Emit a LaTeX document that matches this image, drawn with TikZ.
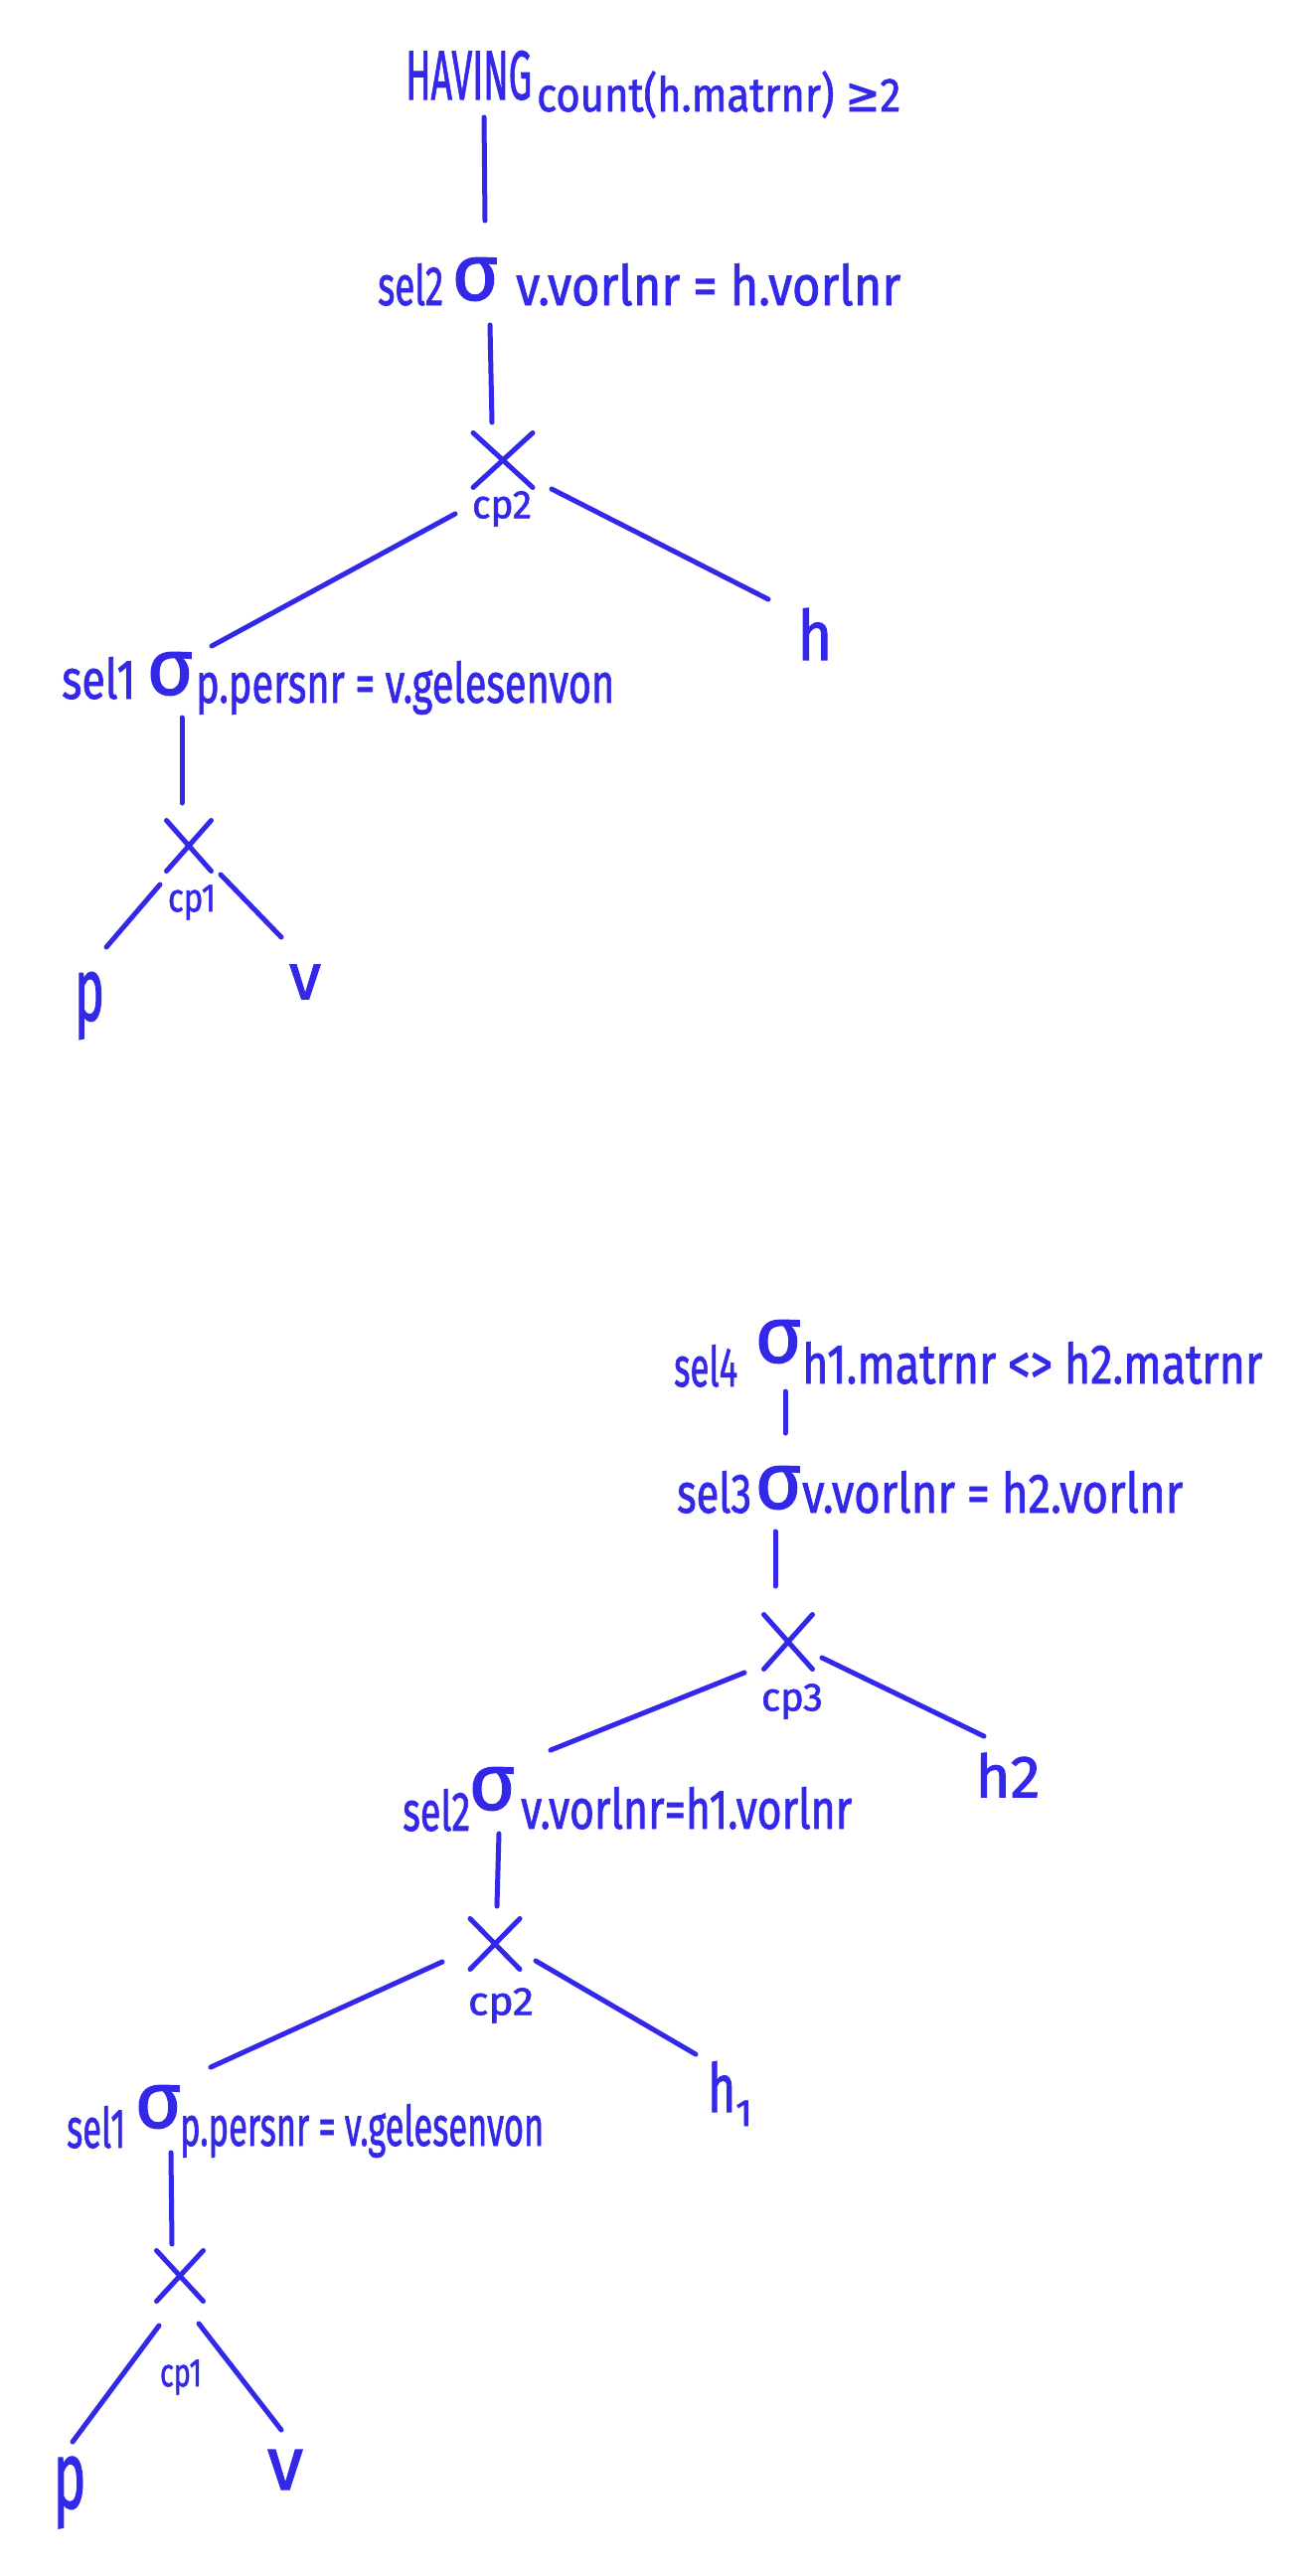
\documentclass[tikz,border=0pt]{standalone}
\usepackage{fontspec}
\usepackage{graphicx}
\setmainfont{Fira Sans}[FakeBold=1.5]
\newfontfamily\symf{DejaVu Sans}[FakeBold=1.5]
\usetikzlibrary{shapes.misc}
\definecolor{ink}{RGB}{52,40,232}
\newcommand{\fw}[2]{\resizebox{#1pt}{\height}{#2}}
\tikzset{
  txt/.style={inner sep=0pt, text=ink, anchor=base west, font=\fontsize{56}{60}\selectfont},
  subtxt/.style={inner sep=0pt, text=ink, anchor=base west, font=\fontsize{48}{52}\selectfont},
  captxt/.style={inner sep=0pt, text=ink, anchor=base west, font=\fontsize{70}{74}\selectfont},
  sig/.style={inner sep=0pt, text=ink, font=\fontsize{80}{84}\selectfont},
  cpl/.style={inner sep=0pt, text=ink, font=\fontsize{40}{44}\selectfont},
  leaf/.style={inner sep=0pt, text=ink, font=\fontsize{70}{74}\selectfont},
  crossnode/.style={cross out, draw=ink, line width=5pt, line cap=round, inner sep=0pt},
  edge/.style={draw=ink, line width=5pt, line cap=round}
}
\begin{document}
\begin{tikzpicture}[x=1pt,y=-1pt]
\fill[white] (0,0) rectangle (1308,2592);
\useasboundingbox (0,0) rectangle (1308,2592);

% ---------------- top tree ----------------
\node[captxt] (tHav) at (408,100) {\fw{127}{HAVING}};
\node[subtxt] (tHavC) at (540,112) {\fw{366}{count(h.matrnr) {\symf ≥}2}};

\node[txt] (tS2l) at (380,307) {\fw{66}{sel2}};
\node[sig] (tS2) at (478,281) {σ};
\node[txt] (tS2c) at (519,307) {\fw{387}{v.vorlnr = h.vorlnr}};

\node[crossnode, minimum width=55pt, minimum height=50pt] (tX2) at (506,463) {};
\node[cpl] (tX2l) at (505,512) {\fw{60}{cp2}};
\node[leaf] (tH) at (820,638) {\fw{35}{h}};

\node[txt] (tS1l) at (62,703) {\fw{74}{sel1}};
\node[sig] (tS1) at (171,678) {σ};
\node[txt] (tS1c) at (197,707) {\fw{421}{p.persnr = v.gelesenvon}};

\node[crossnode, minimum width=40pt, minimum height=46pt] (tX1) at (190,851) {};
\node[cpl] (tX1l) at (193,908) {\fw{48}{cp1}};
\node[leaf, font=\fontsize{90}{94}\selectfont] (tP) at (90,1012) {\fw{30}{p}};
\node[leaf, font=\fontsize{66}{70}\selectfont] (tV) at (307,988) {\fw{32}{v}};

\draw[edge] ([shift={(79,18)}]tHav.base west) -- ([shift={(10,-59)}]tS2.center);
\draw[edge] ([shift={(15,46)}]tS2.center) -- ([shift={(-11,-38)}]tX2.center);
\draw[edge] ([shift={(-48,54)}]tX2.center) -- ([shift={(42,-28)}]tS1.center);
\draw[edge] ([shift={(49,29)}]tX2.center) -- ([shift={(-47,-35)}]tH.center);
\draw[edge] ([shift={(12,44)}]tS1.center) -- ([shift={(-7,-43)}]tX1.center);
\draw[edge] ([shift={(-29,39)}]tX1.center) -- ([shift={(17,-59)}]tP.center);
\draw[edge] ([shift={(32,29)}]tX1.center) -- ([shift={(-24,-45)}]tV.center);

% ---------------- bottom tree ----------------
\node[txt] (bS4l) at (678,1395) {\fw{64}{sel4}};
\node[sig] (bS4) at (783,1350) {σ};
\node[txt] (bS4c) at (807,1392) {\fw{463}{h1.matrnr <> h2.matrnr}};

\node[txt] (bS3l) at (681,1522) {\fw{75}{sel3}};
\node[sig] (bS3) at (783,1497) {σ};
\node[txt] (bS3c) at (807,1522) {\fw{383}{v.vorlnr = h2.vorlnr}};

\node[crossnode, minimum width=44pt, minimum height=50pt] (bX3) at (793,1652) {};
\node[cpl] (bX3l) at (797,1712) {\fw{62}{cp3}};
\node[leaf, font=\fontsize{60}{64}\selectfont] (bH2) at (1014,1786) {\fw{65}{h2}};

\node[txt] (bS2l) at (405,1842) {\fw{68}{sel2}};
\node[sig] (bS2) at (495,1800) {σ};
\node[txt] (bS2c) at (524,1840) {\fw{333}{v.vorlnr=h1.vorlnr}};

\node[crossnode, minimum width=45pt, minimum height=46pt] (bX2) at (498,1956) {};
\node[cpl] (bX2l) at (504,2018) {\fw{66}{cp2}};
\node[leaf, anchor=base west, font=\fontsize{68}{72}\selectfont] (bH1) at (712,2125) {\fw{28}{h}{\fontsize{38}{40}\selectfont\raisebox{-14pt}{1}}};

\node[txt] (bS1l) at (67,2161) {\fw{59}{sel1}};
\node[sig] (bS1) at (159,2120) {σ};
\node[txt] (bS1c) at (181,2159) {\fw{366}{p.persnr = v.gelesenvon}};

\node[crossnode, minimum width=42pt, minimum height=46pt] (bX1) at (181,2290) {};
\node[cpl] (bX1l) at (182,2392) {\fw{42}{cp1}};
\node[leaf, font=\fontsize{96}{100}\selectfont] (bP) at (70,2508) {\fw{33}{p}};
\node[leaf, font=\fontsize{76}{80}\selectfont] (bV) at (287,2485) {\fw{36}{v}};

\draw[edge] ([shift={(7,50)}]bS4.center) -- ([shift={(7,-55)}]bS3.center);
\draw[edge] ([shift={(-3,44)}]bS3.center) -- ([shift={(-13,-56)}]bX3.center);
\draw[edge] ([shift={(-44,31)}]bX3.center) -- ([shift={(59,-39)}]bS2.center);
\draw[edge] ([shift={(34,16)}]bX3.center) -- ([shift={(-24,-39)}]bH2.center);
\draw[edge] ([shift={(7,45)}]bS2.center) -- ([shift={(2,-38)}]bX2.center);
\draw[edge] ([shift={(-53,18)}]bX2.center) -- ([shift={(53,-40)}]bS1.center);
\draw[edge] ([shift={(41,17)}]bX2.center) -- ([shift={(-12,-58)}]bH1.base west);
\draw[edge] ([shift={(13,46)}]bS1.center) -- ([shift={(-8,-32)}]bX1.center);
\draw[edge] ([shift={(-21,50)}]bX1.center) -- ([shift={(3,-51)}]bP.center);
\draw[edge] ([shift={(19,48)}]bX1.center) -- ([shift={(-4,-40)}]bV.center);
\end{tikzpicture}
\end{document}
